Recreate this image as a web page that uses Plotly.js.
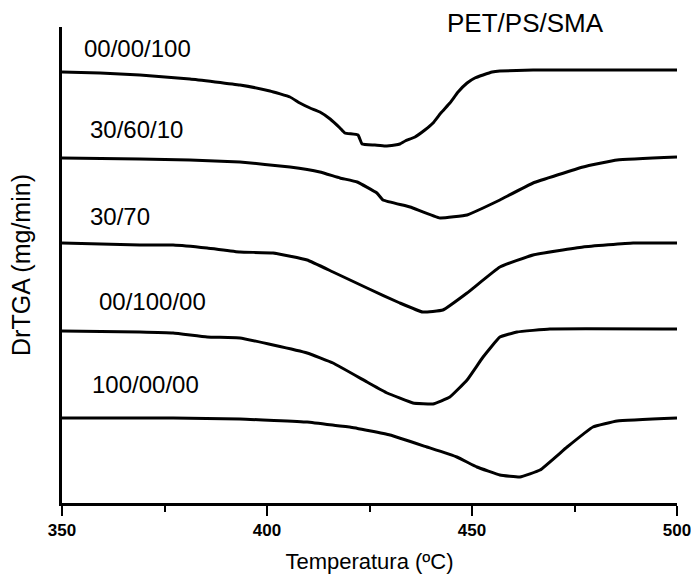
<!DOCTYPE html>
<html>
<head>
<meta charset="utf-8">
<script src="https://cdn.plot.ly/plotly-3.0.1.min.js"></script>
<style>html,body{margin:0;padding:0;background:#fff;}#chart{width:691px;height:576px;}</style>
</head>
<body>
<div id="chart"></div>
<script>
// Sample labels (PET/PS/SMA composition)
const seriesNames = ["00/00/100", "30/60/10", "30/70", "00/100/00", "100/00/00"];

// Temperature (°C) and DrTGA (arbitrary offset units) for each curve
const t1 = [350, 359.3, 369.0, 381.2, 393.4, 400.7, 405.6, 408.0, 410.5, 412.9, 415.4, 417.8, 419.0, 422.2, 423.2, 426.3, 428.8, 431.2, 432.4, 433.7, 436.1, 438.5, 440.5, 442.4, 444.6, 446.6, 448.8, 450.7, 452.7, 454.9, 456.8, 464.9, 481.2, 500];
const v1 = [431, 430, 428, 424, 418, 412, 406, 400, 395, 391, 384, 375, 370, 368, 359, 358, 357, 358, 359, 362, 366, 373, 380, 390, 400, 411, 420, 425, 428, 431, 432, 433, 433, 433];

const t2 = [350, 369.0, 381.2, 393.4, 405.6, 412.9, 417.8, 422.0, 426.8, 428.3, 434.9, 442.2, 448.8, 452.7, 456.8, 464.9, 477.1, 485.4, 500];
const v2 = [345, 344, 343, 341, 336, 331, 325, 321, 310, 303, 296, 285, 288, 295, 303, 320, 336, 343, 346];

const t3 = [350, 369.0, 377.1, 385.4, 393.4, 401.5, 409.8, 416.1, 424.4, 432.4, 438.0, 442.9, 448.8, 456.8, 464.9, 477.1, 489.3, 500];
const v3 = [260, 258, 258, 255, 251, 250, 243, 231, 215, 200, 191, 193, 210, 236, 248, 256, 260, 260];

const t4 = [350, 369.0, 377.1, 385.4, 393.4, 401.5, 409.8, 416.1, 424.4, 429.3, 435.6, 440.5, 444.6, 448.8, 452.7, 456.8, 461.0, 469.0, 500];
const v4 = [172, 171, 170, 166, 165, 158, 150, 140, 121, 110, 100, 99, 106, 123, 146, 166, 171, 174, 174];

const t5 = [350, 377.1, 393.4, 409.8, 417.8, 420.2, 430.0, 439.0, 446.3, 451.2, 456.8, 461.7, 466.6, 473.2, 479.5, 485.4, 500];
const v5 = [85, 85, 84, 81, 77, 76, 68, 56, 46, 36, 28, 26, 33, 56, 76, 82, 85];

const xTicks = [350, 400, 450, 500];
const chartTitle = "PET/PS/SMA";

const temps = [t1, t2, t3, t4, t5];
const vals = [v1, v2, v3, v4, v5];

const traces = temps.map((t, i) => ({
  x: t, y: vals[i], name: seriesNames[i], type: "scatter", mode: "lines",
  line: {color: "#000", width: 3, shape: "spline", smoothing: 0.3},
  hoverinfo: "skip"
}));

// label anchors (left x in °C, y in data units)
const labelX = [354.9, 356.3, 356.3, 358.5, 356.8];
const labelY = [455, 374, 287, 202, 119];

const font = "Arial, 'Liberation Sans', sans-serif";
const annotations = seriesNames.map((s, i) => ({
  x: labelX[i], y: labelY[i], xref: "x", yref: "y", text: s, showarrow: false,
  xanchor: "left", yanchor: "middle", font: {family: font, size: 24, color: "#000"}
}));
annotations.push({
  x: 0.622, y: 1.008, xref: "paper", yref: "paper", text: chartTitle, showarrow: false,
  xanchor: "left", yanchor: "middle", font: {family: font, size: 26, color: "#000"}
});

const layout = {
  width: 691, height: 576,
  margin: {l: 62, r: 14, t: 27, b: 73},
  paper_bgcolor: "#fff", plot_bgcolor: "#fff",
  showlegend: false,
  xaxis: {
    range: [350, 500], tickvals: xTicks, ticktext: xTicks.map(String),
    ticks: "outside", ticklen: 10, tickwidth: 2, tickcolor: "#000",
    minor: {tick0: 350, dtick: 25, ticks: "outside", ticklen: 6, tickwidth: 2, tickcolor: "#000"},
    showline: true, linewidth: 3, linecolor: "#000", showgrid: false, zeroline: false,
    tickfont: {family: font, size: 17, color: "#000", weight: "bold"},
    ticklabeloverflow: "allow",
    title: {text: "Temperatura (ºC)", font: {family: font, size: 22, color: "#000"}, standoff: 15},
    automargin: false
  },
  yaxis: {
    range: [0, 476], showticklabels: false, ticks: "",
    showline: true, linewidth: 3, linecolor: "#000", showgrid: false, zeroline: false,
    title: {text: "DrTGA (mg/min)", font: {family: font, size: 25, color: "#000"}, standoff: 22},
    automargin: false
  },
  annotations: annotations
};

Plotly.newPlot("chart", traces, layout, {displayModeBar: false, staticPlot: true});
</script>
</body>
</html>
